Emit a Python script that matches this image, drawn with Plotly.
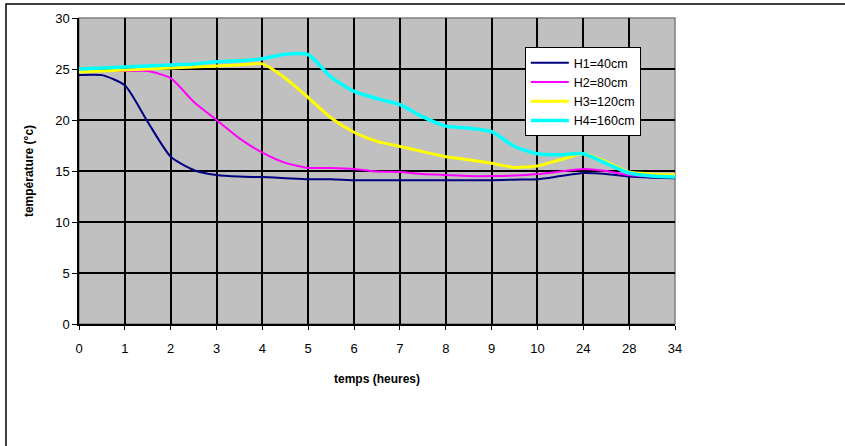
import plotly.graph_objects as go

# Category labels (hours) on the x axis
tick_labels = ["0", "1", "2", "3", "4", "5", "6", "7", "8", "9", "10", "24", "28", "34"]
# Measurement positions (half steps between labelled categories)
x_pos = [i * 0.5 for i in range(27)]

h1 = [24.4, 24.4, 23.4, 19.8, 16.4, 15.1, 14.6, 14.45, 14.4, 14.3, 14.2, 14.2, 14.1, 14.1,
      14.1, 14.1, 14.1, 14.1, 14.1, 14.15, 14.2, 14.5, 14.8, 14.7, 14.45, 14.35, 14.3]
h2 = [24.7, 24.8, 24.8, 24.8, 24.1, 21.8, 20.0, 18.2, 16.8, 15.8, 15.3, 15.3, 15.2, 14.95,
      14.9, 14.7, 14.6, 14.5, 14.5, 14.55, 14.7, 14.95, 15.2, 15.0, 14.6, 14.45, 14.4]
h3 = [24.7, 24.8, 24.9, 25.0, 25.1, 25.2, 25.3, 25.4, 25.5, 24.1, 22.2, 20.2, 18.8, 17.9,
      17.4, 16.9, 16.4, 16.1, 15.75, 15.35, 15.5, 16.1, 16.7, 15.9, 14.9, 14.7, 14.6]
h4 = [25.0, 25.1, 25.2, 25.3, 25.4, 25.5, 25.7, 25.8, 26.0, 26.45, 26.4, 24.2, 22.8, 22.1,
      21.5, 20.3, 19.4, 19.2, 18.85, 17.4, 16.7, 16.6, 16.7, 15.75, 14.8, 14.5, 14.4]

series = [
    ("H1=40cm", h1, "#000080", 2),
    ("H2=80cm", h2, "#FF00FF", 2),
    ("H3=120cm", h3, "#FFFF00", 3),
    ("H4=160cm", h4, "#00FFFF", 3.5),
]

fig = go.Figure()
for name, ys, color, w in series:
    fig.add_trace(go.Scatter(
        x=x_pos, y=ys, name=name, mode="lines",
        line=dict(color=color, width=w, shape="spline", smoothing=0.6),
    ))

font_family = "Liberation Sans, Arial, sans-serif"

fig.update_layout(
    width=845, height=446,
    margin=dict(l=79, r=170, t=18, b=122, autoexpand=False),
    paper_bgcolor="white",
    plot_bgcolor="#C0C0C0",
    font=dict(family=font_family, color="black", size=13),
    showlegend=True,
    legend=dict(
        x=0.748, y=0.905, xanchor="left", yanchor="top",
        bgcolor="white", bordercolor="black", borderwidth=1,
        font=dict(size=12.5, family=font_family),
        tracegroupgap=0, itemwidth=38,
    ),
    xaxis=dict(
        range=[0, 13],
        tickmode="array",
        tickvals=list(range(len(tick_labels))),
        ticktext=tick_labels,
        showgrid=True, gridcolor="black", gridwidth=1.5,
        showline=True, linecolor="black", linewidth=1.5,
        ticks="outside", ticklen=4, tickcolor="black",
        ticklabelstandoff=8,
        zeroline=False, automargin=False,
        title=dict(text="<b>temps (heures)</b>", font=dict(size=12), standoff=19),
        tickfont=dict(size=13),
    ),
    yaxis=dict(
        range=[0, 30],
        tickmode="linear", tick0=0, dtick=5,
        showgrid=True, gridcolor="black", gridwidth=1.5,
        showline=True, linecolor="black", linewidth=1.5,
        ticks="outside", ticklen=5, tickcolor="black",
        zeroline=False, automargin=False,
        title=dict(text="<b>température (°c)</b>", font=dict(size=12), standoff=19),
        tickfont=dict(size=13),
    ),
    shapes=[
        # plot area border (grey on top/right)
        dict(type="rect", xref="paper", yref="paper", x0=0, y0=0, x1=1, y1=1,
             line=dict(color="#808080", width=1.5), layer="below"),
        # outer chart frame, partially outside the page
        dict(type="rect", xref="paper", yref="paper",
             x0=(6 - 79) / 596, y0=1 + (18 - 4) / 306,
             x1=2.0, y1=-2.0,
             line=dict(color="black", width=1.5)),
    ],
)

fig.write_html(
    "out.html",
    config={"displayModeBar": False},
    post_script="document.body.style.margin='0';document.body.style.overflow='hidden';",
)
